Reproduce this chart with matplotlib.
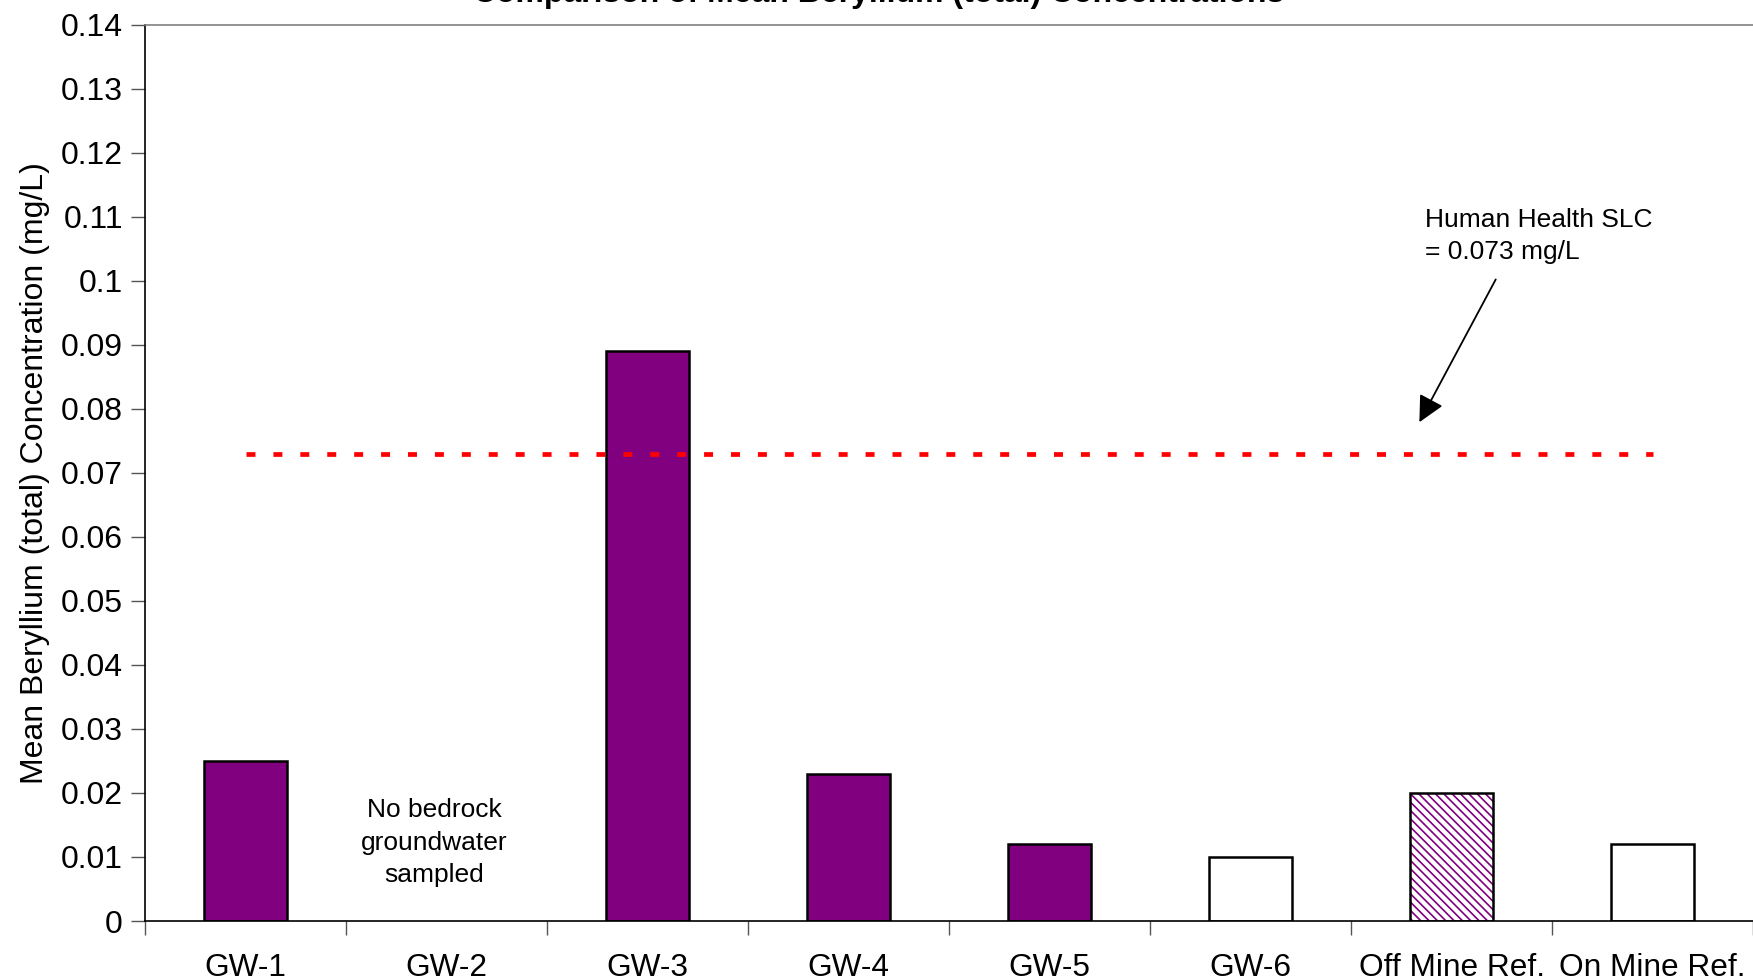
import numpy as np
import matplotlib
matplotlib.use("Agg")
import matplotlib.pyplot as plt

plt.rcParams["font.family"] = ["Liberation Sans", "DejaVu Sans"]
plt.rcParams["hatch.linewidth"] = 1.2

# Mean beryllium (total) in mg/L; GW-2 had no bedrock groundwater sample
locations = ["GW-1", "GW-2", "GW-3", "GW-4", "GW-5", "GW-6",
             "Off Mine Ref.", "On Mine Ref."]
mean_be = [0.025, np.nan, 0.089, 0.023, 0.012, 0.010, 0.020, 0.012]
bar_style = ["solid", None, "solid", "solid", "solid", "open", "hatched", "open"]
slc_value = 0.073

PURPLE = "#800080"

fig = plt.figure(figsize=(17.53, 9.8), dpi=100)
ax = fig.add_axes([0.0828, 0.0602, 0.9172, 0.9147])

x = np.arange(len(locations))
for xi, val, style in zip(x, mean_be, bar_style):
    if style is None or np.isnan(val):
        continue
    if style == "solid":
        ax.bar(xi, val, width=0.41, color=PURPLE, edgecolor="black",
               linewidth=1.8, zorder=2)
    elif style == "open":
        ax.bar(xi, val, width=0.41, color="white", edgecolor="black",
               linewidth=1.8, zorder=2)
    else:
        ax.bar(xi, val, width=0.41, color="white", edgecolor=PURPLE,
               hatch="\\\\\\\\", linewidth=0, zorder=2)
        ax.bar(xi, val, width=0.41, color="none", edgecolor="black",
               linewidth=1.8, zorder=2)

# screening level line across all locations
ax.plot(x, [slc_value] * len(x), color="red", linewidth=3.4,
        linestyle=(0, (1.9, 3.8)), zorder=3)

ax.text(0.94, 0.0122, "No bedrock\ngroundwater\nsampled", ha="center",
        va="center", fontsize=19, linespacing=1.45)

ax.text(5.87, 0.1070, "Human Health SLC\n= 0.073 mg/L", ha="left",
        va="center", fontsize=19, linespacing=1.45)
ax.annotate("", xy=(5.84, 0.0779), xytext=(6.22, 0.1002),
            arrowprops=dict(arrowstyle="-|>,head_length=0.8,head_width=0.4",
                            color="black", lw=1.3, mutation_scale=20,
                            shrinkA=0, shrinkB=0))

ax.set_xlim(-0.5, 7.5)
ax.set_ylim(0, 0.14)
ax.set_yticks(np.arange(0, 0.141, 0.01))
ax.set_yticklabels(["0"] + [f"{v:g}" for v in np.arange(0.01, 0.141, 0.01).round(2)])
ax.set_xticks(np.arange(-0.5, 8.0, 1.0))
ax.set_xticklabels([])
ax.set_xticks(x, minor=True)
ax.set_xticklabels(locations, minor=True)
ax.tick_params(axis="x", which="major", length=10, width=1.0, color="#555555",
               direction="out")
ax.tick_params(axis="x", which="minor", length=0, labelsize=22.8, pad=23)
ax.tick_params(axis="y", length=10, width=1.0, labelsize=23, pad=6,
               color="#555555")

ax.set_ylabel("Mean Beryllium (total) Concentration (mg/L)", fontsize=23,
              labelpad=8)

ax.spines["right"].set_visible(False)
ax.spines["top"].set_color("#808080")
ax.spines["top"].set_linewidth(1.2)
ax.spines["left"].set_linewidth(1.2)
ax.spines["bottom"].set_linewidth(1.2)

fig.text(0.501, 0.998, "Comparison of Mean Beryllium (total) Concentrations",
         ha="center", va="baseline", fontsize=23, fontweight="bold")

fig.savefig("out.png", dpi=100)
